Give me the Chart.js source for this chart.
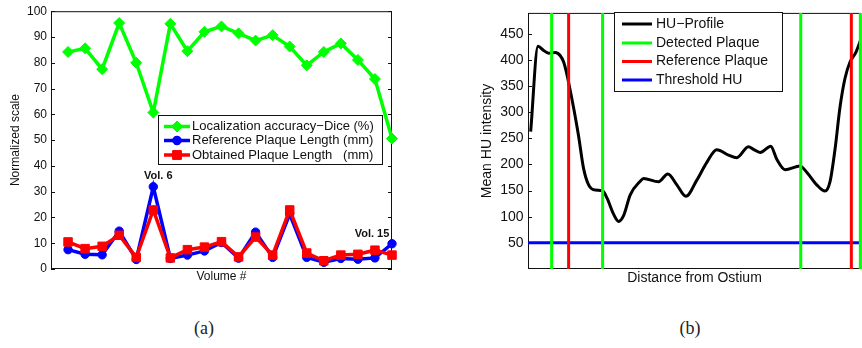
<!DOCTYPE html>
<html>
<head>
<meta charset="utf-8">
<script src="https://cdn.jsdelivr.net/npm/chart.js@4.4.0/dist/chart.umd.min.js"></script>
<style>
  body { margin: 0; background: #fff; width: 862px; height: 348px; position: relative; overflow: hidden; }
  canvas { position: absolute; top: 0; }
  #plotA { left: 0; }
  #plotB { left: 440px; }
  .caption { position: absolute; top: 318px; font: 18px 'Liberation Serif', serif; color: #222; transform: translateX(-50%); }
</style>
</head>
<body>
<canvas id="plotA" width="400" height="300"></canvas>
<canvas id="plotB" width="422" height="300"></canvas>
<div class="caption" style="left:204px">(a)</div>
<div class="caption" style="left:690px">(b)</div>
<script>
// (a) per-volume results
const volumes = [1, 2, 3, 4, 5, 6, 7, 8, 9, 10, 11, 12, 13, 14, 15, 16, 17, 18, 19, 20];
const diceAccuracy = [84.2, 85.6, 77.5, 95.4, 80.0, 60.7, 95.1, 84.5, 92.0, 94.1, 91.4, 88.6, 90.7, 86.3, 79.0, 84.2, 87.5, 81.1, 73.7, 50.6];
const referenceLength = [7.5, 5.7, 5.5, 14.7, 3.7, 31.9, 4.1, 5.4, 7.0, 10.3, 4.2, 14.3, 4.5, 21.3, 4.5, 2.6, 4.1, 3.8, 4.3, 9.8];
const obtainedLength = [10.5, 7.9, 8.8, 13.1, 4.5, 22.9, 4.3, 7.5, 8.5, 10.6, 4.7, 12.4, 5.4, 22.9, 6.2, 3.2, 5.4, 5.7, 7.3, 5.4];
const scaleTicksA = [0, 10, 20, 30, 40, 50, 60, 70, 80, 90, 100];

// (b) HU profile along the vessel
const distance = [0.8, 3.0, 4.7, 6.2, 8.2, 9.7, 10.7, 11.7, 12.7, 14.2, 15.2, 16.7, 18.2, 20.2, 22.4, 23.7, 25.7, 27.2, 28.7, 30.7, 33.7, 34.7, 39.2, 42.0, 44.7, 47.4, 50.7, 53.7, 56.7, 60.2, 62.7, 66.2, 67.7, 69.7, 72.9, 74.7, 77.2, 81.7, 83.7, 86.7, 89.2, 90.7, 92.2, 93.7, 95.2, 96.7, 98.5, 100];
const huProfile = [263, 426, 418, 413, 414, 408, 396, 372, 341, 291, 254, 192, 161, 151, 150, 136, 105, 91, 102, 142, 168, 173, 167, 182, 161, 139, 170, 204, 228, 218, 213, 234, 229, 223, 235, 210, 190, 197, 185, 161, 149, 167, 229, 310, 365, 396, 415, 440];
const detectedPlaque = [7.1, 22.4, 81.9, 99.8];
const referencePlaque = [12.2, 97.1];
const thresholdHU = 50;
const huTicks = [50, 100, 150, 200, 250, 300, 350, 400, 450];
const huMax = 490;

const FONT = "'Liberation Sans', Arial, Helvetica, sans-serif";
const INK = '#111';

// vertical markers as one broken line
function verticals(xs) {
    const pts = [];
    xs.forEach((x) => {
        pts.push({ x: x, y: 0 }, { x: x, y: huMax }, { x: x, y: null });
    });
    return pts;
}

// axes box with inward tick marks (matlab style)
const frame = {
    id: 'frame',
    beforeDatasetsDraw(chart, args, opts) {
        const { ctx, chartArea: a } = chart;
        const y = chart.scales.y;
        ctx.save();
        ctx.strokeStyle = INK;
        ctx.lineWidth = 1;
        ctx.strokeRect(a.left + 0.5, a.top + 0.5, a.width - 1, a.height - 1);
        y.ticks.forEach((t) => {
            const py = Math.round(y.getPixelForValue(t.value)) + 0.5;
            ctx.beginPath();
            ctx.moveTo(a.left, py);
            ctx.lineTo(a.left + 4, py);
            if (opts.right) {
                ctx.moveTo(a.right, py);
                ctx.lineTo(a.right - 4, py);
            }
            ctx.stroke();
        });
        ctx.restore();
    }
};

// boxed legend drawn at fixed spot
const boxLegend = {
    id: 'boxLegend',
    afterDraw(chart, args, opts) {
        const ctx = chart.ctx;
        const b = opts.box;
        ctx.save();
        ctx.fillStyle = '#fff';
        ctx.fillRect(b.x, b.y, b.w, b.h);
        ctx.strokeStyle = INK;
        ctx.lineWidth = 1;
        ctx.strokeRect(b.x + 0.5, b.y + 0.5, b.w, b.h);
        ctx.font = opts.fontSize + 'px ' + FONT;
        ctx.textBaseline = 'middle';
        opts.items.forEach((it, i) => {
            const yy = opts.rows[i];
            ctx.strokeStyle = it.color;
            ctx.lineWidth = it.width;
            ctx.beginPath();
            ctx.moveTo(opts.lineX[0], yy);
            ctx.lineTo(opts.lineX[1], yy);
            ctx.stroke();
            if (it.pointStyle) {
                ctx.fillStyle = it.color;
                ctx.lineWidth = 1;
                Chart.helpers.drawPoint(ctx, { pointStyle: it.pointStyle, radius: it.radius, rotation: 0, borderWidth: 1 },
                    (opts.lineX[0] + opts.lineX[1]) / 2, yy);
                ctx.fill();
                ctx.stroke();
            }
            ctx.fillStyle = INK;
            ctx.fillText(it.label, opts.textX, yy);
        });
        ctx.restore();
    }
};

// "Vol. n" notes next to points of the reference series
const volNotes = {
    id: 'volNotes',
    afterDatasetsDraw(chart, args, opts) {
        const ctx = chart.ctx;
        const { x, y } = chart.scales;
        ctx.save();
        ctx.font = 'bold 11px ' + FONT;
        ctx.fillStyle = INK;
        ctx.textAlign = 'center';
        ctx.textBaseline = 'middle';
        opts.notes.forEach((n) => {
            const px = x.getPixelForValue(volumes[n.index]) + n.dx;
            const py = y.getPixelForValue(referenceLength[n.index]) + n.dy;
            ctx.fillText(n.text, px, py);
        });
        ctx.restore();
    }
};

new Chart(document.getElementById('plotA'), {
    type: 'line',
    data: {
        datasets: [
            {
                label: 'Localization accuracy−Dice (%)',
                data: volumes.map((v, i) => ({ x: v, y: diceAccuracy[i] })),
                borderColor: '#00ff00', backgroundColor: '#00ff00',
                borderWidth: 3.5, pointStyle: 'rectRot', pointRadius: 5.5, pointBorderWidth: 1,
                order: 3, clip: false
            },
            {
                label: 'Reference Plaque Length (mm)',
                data: volumes.map((v, i) => ({ x: v, y: referenceLength[i] })),
                borderColor: '#0000ff', backgroundColor: '#0000ff',
                borderWidth: 3.5, pointStyle: 'circle', pointRadius: 4.2, pointBorderWidth: 1,
                order: 2, clip: false
            },
            {
                label: 'Obtained Plaque Length   (mm)',
                data: volumes.map((v, i) => ({ x: v, y: obtainedLength[i] })),
                borderColor: '#ff0000', backgroundColor: '#ff0000',
                borderWidth: 3.5, pointStyle: 'rect', pointRadius: 6, pointBorderWidth: 1,
                order: 1, clip: false
            }
        ]
    },
    options: {
        responsive: false,
        animation: false,
        devicePixelRatio: 1,
        layout: { padding: { top: 8, right: 8, left: 0, bottom: 0 } },
        plugins: {
            legend: { display: false },
            tooltip: { enabled: false },
            frame: { right: true },
            volNotes: {
                notes: [
                    { text: 'Vol. 6', index: 5, dx: 5, dy: -11 },
                    { text: 'Vol. 15', index: 19, dx: -20, dy: -10 }
                ]
            },
            boxLegend: {
                box: { x: 158, y: 115, w: 224, h: 49 },
                rows: [126.5, 140.5, 155],
                lineX: [164, 190],
                textX: 192,
                fontSize: 13,
                items: [
                    { label: 'Localization accuracy−Dice (%)', color: '#00ff00', width: 3.5, pointStyle: 'rectRot', radius: 5.5 },
                    { label: 'Reference Plaque Length (mm)', color: '#0000ff', width: 3.5, pointStyle: 'circle', radius: 4.2 },
                    { label: 'Obtained Plaque Length   (mm)', color: '#ff0000', width: 3.5, pointStyle: 'rect', radius: 6 }
                ]
            }
        },
        scales: {
            x: {
                type: 'linear', min: 0, max: 20,
                grid: { display: false, drawTicks: false },
                border: { display: false },
                ticks: { display: false },
                title: { display: true, text: 'Volume #', color: INK, font: { family: FONT, size: 12 }, padding: { top: 0, bottom: 16 } },
                afterFit(s) { s.height = 31; }
            },
            y: {
                min: 0, max: 100,
                afterBuildTicks(s) { s.ticks = scaleTicksA.map((v) => ({ value: v })); },
                grid: { display: false, drawTicks: false },
                border: { display: false },
                ticks: { padding: 4, color: INK, font: { family: FONT, size: 12 } },
                title: { display: true, text: 'Normalized scale', color: INK, font: { family: FONT, size: 12 }, padding: { top: 8, bottom: 0 } },
                afterFit(s) { s.width = 51; }
            }
        }
    },
    plugins: [frame, volNotes, boxLegend]
});

new Chart(document.getElementById('plotB'), {
    type: 'line',
    data: {
        datasets: [
            {
                label: 'HU−Profile',
                data: distance.map((d, i) => ({ x: d, y: huProfile[i] })),
                borderColor: '#000', borderWidth: 3, pointRadius: 0,
                cubicInterpolationMode: 'monotone', order: 4
            },
            {
                label: 'Threshold HU',
                data: [{ x: 0, y: thresholdHU }, { x: 100, y: thresholdHU }],
                borderColor: '#0000ff', borderWidth: 3, pointRadius: 0, order: 3, clip: false
            },
            {
                label: 'Reference Plaque',
                data: verticals(referencePlaque),
                borderColor: '#ff0000', borderWidth: 3, pointRadius: 0, spanGaps: false, order: 2, clip: false
            },
            {
                label: 'Detected Plaque',
                data: verticals(detectedPlaque),
                borderColor: '#00ff00', borderWidth: 3, pointRadius: 0, spanGaps: false, order: 1, clip: false
            }
        ]
    },
    options: {
        responsive: false,
        animation: false,
        devicePixelRatio: 1,
        layout: { padding: { top: 7, right: 1, left: 0, bottom: 0 } },
        plugins: {
            legend: { display: false },
            tooltip: { enabled: false },
            frame: { right: false },
            boxLegend: {
                box: { x: 174, y: 12, w: 168, h: 79 },
                rows: [24, 43, 61.5, 80],
                lineX: [182, 212],
                textX: 216,
                fontSize: 14,
                items: [
                    { label: 'HU−Profile', color: '#000', width: 3 },
                    { label: 'Detected Plaque', color: '#00ff00', width: 3 },
                    { label: 'Reference Plaque', color: '#ff0000', width: 3 },
                    { label: 'Threshold HU', color: '#0000ff', width: 3 }
                ]
            }
        },
        scales: {
            x: {
                type: 'linear', min: 0, max: 100,
                grid: { display: false, drawTicks: false },
                border: { display: false },
                ticks: { display: false },
                title: { display: true, text: 'Distance from Ostium', color: INK, font: { family: FONT, size: 14 }, padding: { top: 0, bottom: 13.6 } },
                afterFit(s) { s.height = 31; }
            },
            y: {
                min: 0, max: huMax,
                afterBuildTicks(s) { s.ticks = huTicks.map((v) => ({ value: v })); },
                grid: { display: false, drawTicks: false },
                border: { display: false },
                ticks: { padding: 4.5, color: INK, font: { family: FONT, size: 14 } },
                title: { display: true, text: 'Mean HU intensity', color: INK, font: { family: FONT, size: 14 }, padding: { top: 38.6, bottom: 0 } },
                afterFit(s) { s.width = 88; }
            }
        }
    },
    plugins: [frame, boxLegend]
});
</script>
</body>
</html>
